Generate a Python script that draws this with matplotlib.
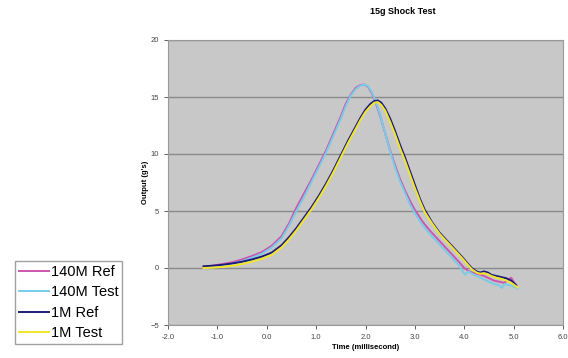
import numpy as np
import matplotlib
matplotlib.use("Agg")
import matplotlib.pyplot as plt
from matplotlib.ticker import FormatStrFormatter

plt.rcParams["font.family"] = ["Liberation Sans", "DejaVu Sans"]

# 140M reference
t_140_ref = [-1.28, -1.1, -0.9, -0.7, -0.5, -0.3, -0.1, 0.1, 0.3, 0.45, 0.6, 0.75, 0.9,
             1.05, 1.2, 1.35, 1.5, 1.6, 1.7, 1.8, 1.9, 1.97, 2.05, 2.12, 2.2, 2.3, 2.4,
             2.5, 2.6, 2.7, 2.8, 2.9, 3.0, 3.15, 3.3, 3.45, 3.6, 3.75, 3.9, 4.0, 4.1,
             4.2, 4.3, 4.4, 4.5, 4.6, 4.7, 4.8, 4.88, 4.95, 5.0, 5.06]
v_140_ref = [0.1, 0.2, 0.35, 0.5, 0.75, 1.05, 1.4, 1.95, 2.8, 3.9, 5.3, 6.5, 7.7,
             9.0, 10.3, 11.8, 13.3, 14.4, 15.2, 15.8, 16.05, 16.1, 15.9, 15.4, 14.6, 13.3, 11.8,
             10.3, 9.0, 7.8, 6.8, 5.9, 5.1, 4.1, 3.3, 2.6, 1.9, 1.2, 0.5, 0.0, -0.3,
             -0.45, -0.55, -0.7, -0.9, -1.1, -1.2, -1.3, -1.1, -0.85, -1.2, -1.6]

# 140M test
t_140_test = [-1.28, -1.1, -0.9, -0.7, -0.5, -0.3, -0.1, 0.1, 0.3, 0.45, 0.6, 0.75, 0.9,
              1.05, 1.2, 1.35, 1.5, 1.6, 1.7, 1.8, 1.9, 1.97, 2.05, 2.12, 2.2, 2.3, 2.4,
              2.5, 2.6, 2.7, 2.8, 2.9, 3.0, 3.15, 3.3, 3.45, 3.6, 3.75, 3.9, 3.97, 4.02,
              4.08, 4.2, 4.3, 4.4, 4.5, 4.6, 4.7, 4.76, 4.82, 4.9, 5.0, 5.08]
v_140_test = [0.0, 0.1, 0.22, 0.38, 0.6, 0.9, 1.25, 1.8, 2.6, 3.7, 5.0, 6.2, 7.5,
              8.8, 10.1, 11.6, 13.1, 14.2, 15.1, 15.7, 16.0, 16.1, 15.95, 15.5, 14.7, 13.4, 11.8,
              10.2, 8.8, 7.6, 6.6, 5.6, 4.8, 3.8, 3.0, 2.3, 1.6, 0.9, 0.2, -0.3, -0.6,
              -0.3, -0.6, -0.8, -1.0, -1.2, -1.4, -1.5, -1.75, -1.4, -1.5, -1.6, -1.8]

# 1M reference
t_1m_ref = [-1.28, -1.1, -0.9, -0.7, -0.5, -0.3, -0.1, 0.1, 0.3, 0.45, 0.6, 0.75, 0.9,
            1.05, 1.2, 1.35, 1.5, 1.65, 1.8, 1.9, 2.0, 2.1, 2.18, 2.25, 2.32, 2.4, 2.5,
            2.6, 2.7, 2.8, 2.9, 3.0, 3.1, 3.2, 3.35, 3.5, 3.65, 3.8, 3.95, 4.05, 4.15,
            4.25, 4.32, 4.4, 4.48, 4.55, 4.65, 4.75, 4.85, 4.95, 5.05]
v_1m_ref = [0.15, 0.2, 0.28, 0.4, 0.55, 0.75, 1.0, 1.35, 2.0, 2.7, 3.5, 4.4, 5.3,
            6.3, 7.4, 8.6, 9.9, 11.2, 12.4, 13.2, 13.9, 14.4, 14.65, 14.7, 14.5, 14.0, 13.1,
            12.0, 10.8, 9.7, 8.5, 7.3, 6.1, 5.1, 4.0, 3.1, 2.4, 1.7, 1.0, 0.5, 0.0,
            -0.3, -0.4, -0.3, -0.4, -0.6, -0.7, -0.8, -0.9, -1.1, -1.5]

# 1M test
t_1m_test = [-1.28, -1.1, -0.9, -0.7, -0.5, -0.3, -0.1, 0.1, 0.3, 0.45, 0.6, 0.75, 0.9,
             1.05, 1.2, 1.35, 1.5, 1.65, 1.8, 1.9, 2.0, 2.1, 2.18, 2.25, 2.32, 2.4, 2.5,
             2.6, 2.7, 2.8, 2.9, 3.0, 3.1, 3.2, 3.35, 3.5, 3.65, 3.8, 3.95, 4.05, 4.15,
             4.25, 4.32, 4.4, 4.48, 4.55, 4.65, 4.75, 4.85, 4.95, 5.08]
v_1m_test = [0.0, 0.03, 0.1, 0.2, 0.35, 0.55, 0.8, 1.15, 1.8, 2.5, 3.3, 4.2, 5.1,
             6.1, 7.2, 8.4, 9.7, 11.0, 12.2, 13.0, 13.7, 14.2, 14.5, 14.55, 14.3, 13.8, 12.8,
             11.7, 10.5, 9.4, 8.2, 7.0, 5.9, 4.9, 3.9, 3.0, 2.3, 1.6, 0.9, 0.4, -0.1,
             -0.4, -0.5, -0.45, -0.55, -0.7, -0.85, -0.95, -1.1, -1.3, -1.7]

labels = ["140M Ref", "140M Test", "1M Ref", "1M Test"]
colors = ["#CC55B0", "#77CCE8", "#1C1C78", "#F2E628"]

fig = plt.figure(figsize=(5.68, 3.58), dpi=100)
ax = fig.add_axes([168 / 568, 1 - 325 / 358, 395 / 568, 285 / 358])
ax.set_facecolor("#C8C8C8")

series = [(t_140_ref, v_140_ref), (t_140_test, v_140_test),
          (t_1m_ref, v_1m_ref), (t_1m_test, v_1m_test)]
for (t, v), lab, c in zip(series, labels, colors):
    ax.plot(t, v, color=c, lw=1.4, label=lab, solid_joinstyle="round")

ax.set_xlim(-2, 6)
ax.set_ylim(-5, 20)
ax.set_xticks(np.arange(-2, 6.1, 1))
ax.set_yticks([-5, 0, 5, 10, 15, 20])
ax.xaxis.set_major_formatter(FormatStrFormatter("%.1f"))
ax.yaxis.grid(True, color="#8A8A8A", lw=1)
ax.set_axisbelow(True)
ax.tick_params(labelsize=5.5, colors="#444444", length=3, width=0.6)
for s in ax.spines.values():
    s.set_color("#999999")

ax.set_xlabel("Time (millisecond)", fontsize=5.5, fontweight="bold", labelpad=2)
ax.set_ylabel("Output (g's)", fontsize=5.5, fontweight="bold", labelpad=1)
fig.text(403 / 568, 1 - 12 / 358, "15g Shock Test", fontsize=6.5, fontweight="bold",
         ha="center", va="center")

handles, labs = ax.get_legend_handles_labels()
fig.legend(handles, labs, loc="upper left", bbox_to_anchor=(15 / 568, 1 - 261 / 358),
           fontsize=10.5, frameon=True, fancybox=False, edgecolor="#888888",
           handlelength=2.1, handletextpad=0.1, borderpad=0.25, labelspacing=0.45,
           borderaxespad=0)

fig.savefig("out.png", dpi=100)
